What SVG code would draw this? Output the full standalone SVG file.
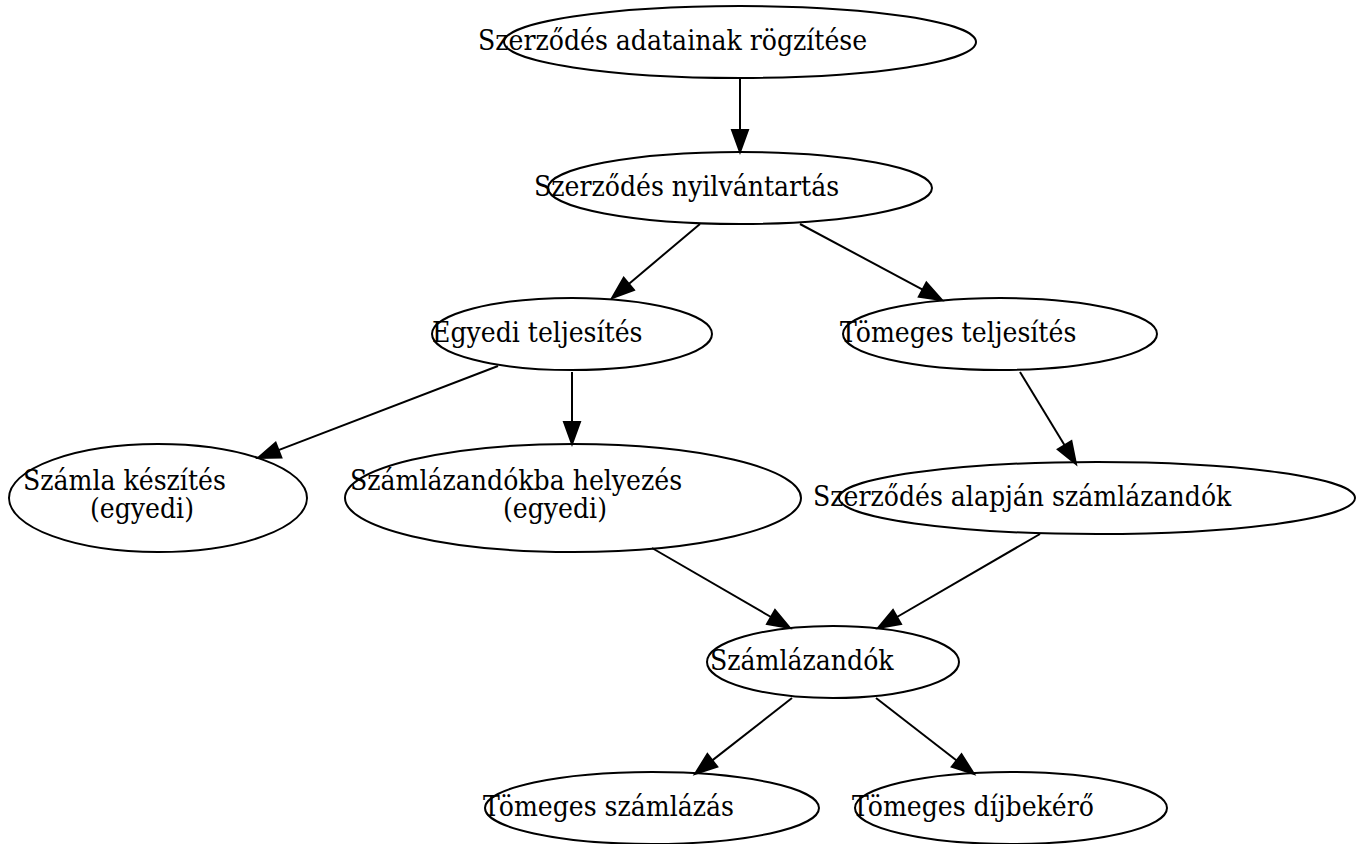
<svg xmlns="http://www.w3.org/2000/svg" width="1363" height="844" viewBox="0 0 1363 844">
<style>
.n ellipse{fill:none;stroke:#000;stroke-width:2}
.n text{font-family:"DejaVu Serif Condensed","DejaVu Serif",serif;font-stretch:condensed;font-size:28px;fill:#000}
.e line{stroke:#000;stroke-width:2}
.e polygon{fill:#000;stroke:#000;stroke-width:2}
</style>
<rect width="1363" height="844" fill="#fff"/>
<g class="e" id="edges">
<line x1="740" y1="78" x2="740" y2="130"/><polygon points="732,130 748,130 740,152"/>
<line x1="700" y1="224" x2="628.8" y2="283.9"/><polygon points="633.9,290 623.7,277.8 612,298"/>
<line x1="800" y1="224" x2="922.6" y2="289.6"/><polygon points="918.8,296.7 926.4,282.6 942,300"/>
<line x1="498" y1="366" x2="278.5" y2="450.1"/><polygon points="281.4,457.6 275.6,442.6 258,458"/>
<line x1="572" y1="372" x2="572" y2="422"/><polygon points="564,422 580,422 572,444"/>
<line x1="1020" y1="372" x2="1064.6" y2="445.2"/><polygon points="1057.8,449.4 1071.4,441 1076,464"/>
<line x1="652" y1="548" x2="771" y2="617"/><polygon points="767,623.9 775,610.1 790,628"/>
<line x1="1040" y1="534" x2="897" y2="617"/><polygon points="901,623.9 893,610.1 878,628"/>
<line x1="792" y1="698" x2="712.3" y2="760.4"/><polygon points="717.2,766.7 707.4,754.1 695,774"/>
<line x1="876" y1="698" x2="956.6" y2="760.5"/><polygon points="951.7,766.8 961.5,754.2 974,774"/>
</g>
<g class="n" id="n1"><ellipse cx="740" cy="42" rx="236" ry="36"/><text x="478" y="50">Szerződés adatainak rögzítése</text></g>
<g class="n" id="n2"><ellipse cx="740" cy="188" rx="192" ry="36"/><text x="534" y="196">Szerződés nyilvántartás</text></g>
<g class="n" id="n3"><ellipse cx="572" cy="334" rx="140" ry="36"/><text x="432" y="342">Egyedi teljesítés</text></g>
<g class="n" id="n4"><ellipse cx="1000" cy="334" rx="157" ry="36"/><text x="840" y="342">Tömeges teljesítés</text></g>
<g class="n" id="n5"><ellipse cx="158" cy="498" rx="149" ry="54"/><text x="23" y="490">Számla készítés</text><text x="90" y="518">(egyedi)</text></g>
<g class="n" id="n6"><ellipse cx="573" cy="498" rx="228" ry="54"/><text x="350" y="490">Számlázandókba helyezés</text><text x="503" y="518">(egyedi)</text></g>
<g class="n" id="n7"><ellipse cx="1097" cy="498" rx="258" ry="36"/><text x="813" y="506">Szerződés alapján számlázandók</text></g>
<g class="n" id="n8"><ellipse cx="833" cy="662" rx="126" ry="36"/><text x="710" y="670">Számlázandók</text></g>
<g class="n" id="n9"><ellipse cx="652" cy="808" rx="167" ry="36"/><text x="483" y="816">Tömeges számlázás</text></g>
<g class="n" id="n10"><ellipse cx="1011" cy="808" rx="156" ry="36"/><text x="852" y="816">Tömeges díjbekérő</text></g>
</svg>
